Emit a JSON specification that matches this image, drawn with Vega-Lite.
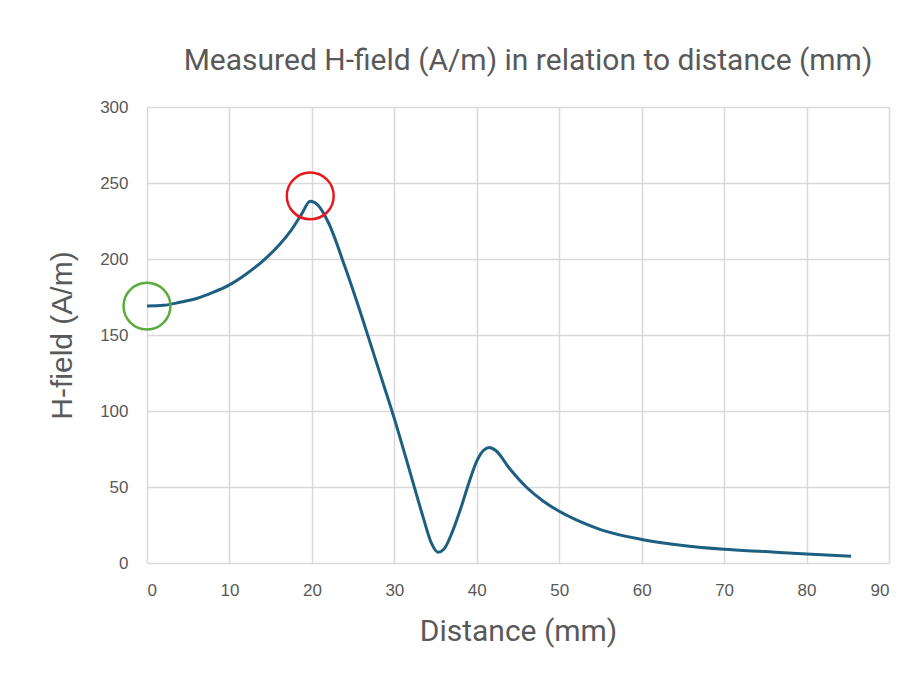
{
  "$schema": "https://vega.github.io/schema/vega-lite/v6.json",
  "width": 742,
  "height": 456,
  "autosize": "none",
  "padding": {"left": 147, "top": 107, "right": 29, "bottom": 119},
  "background": "white",
  "title": {
    "text": "Measured H-field (A/m) in relation to distance (mm)",
    "font": "Roboto",
    "fontSize": 30,
    "fontWeight": "normal",
    "color": "#595959",
    "anchor": "middle",
    "offset": 22,
    "dx": 10
  },
  "config": {
    "view": {"stroke": null},
    "axis": {
      "gridColor": "#d9d9d9",
      "gridWidth": 1.5,
      "domain": false,
      "ticks": false,
      "labelColor": "#595959",
      "labelFont": "Liberation Sans",
      "labelFontSize": 17,
      "titleColor": "#595959",
      "titleFontWeight": "normal"
    }
  },
  "datasets": {
    "curve": [
      {"d": 0, "h": 169},
      {"d": 2, "h": 169.5},
      {"d": 4, "h": 171.5},
      {"d": 6, "h": 174},
      {"d": 8, "h": 178},
      {"d": 10, "h": 183},
      {"d": 12, "h": 190},
      {"d": 14, "h": 198.5},
      {"d": 16, "h": 209},
      {"d": 17.5, "h": 219},
      {"d": 18.7, "h": 229},
      {"d": 19.8, "h": 238},
      {"d": 20.8, "h": 235},
      {"d": 22, "h": 224},
      {"d": 24, "h": 195},
      {"d": 26, "h": 163},
      {"d": 28, "h": 129},
      {"d": 30, "h": 95},
      {"d": 32, "h": 58},
      {"d": 33.5, "h": 30},
      {"d": 34.5, "h": 13},
      {"d": 35.3, "h": 7},
      {"d": 36, "h": 9},
      {"d": 37, "h": 20},
      {"d": 38, "h": 35},
      {"d": 39, "h": 52},
      {"d": 40, "h": 67},
      {"d": 40.8, "h": 74},
      {"d": 41.5, "h": 76},
      {"d": 42.3, "h": 74},
      {"d": 44, "h": 62},
      {"d": 46, "h": 50},
      {"d": 48, "h": 41},
      {"d": 50, "h": 34},
      {"d": 52, "h": 28.5},
      {"d": 55, "h": 22},
      {"d": 60, "h": 15.5},
      {"d": 65, "h": 11.5},
      {"d": 70, "h": 9},
      {"d": 75, "h": 7.5},
      {"d": 80, "h": 6},
      {"d": 85.4, "h": 4.5}
    ],
    "marks": [
      {"d": 0, "h": 169, "kind": "start"},
      {"d": 19.8, "h": 241.5, "kind": "peak"}
    ]
  },
  "layer": [
    {
      "data": {"name": "curve"},
      "mark": {"type": "line", "interpolate": "monotone", "color": "#1d5f80", "strokeWidth": 3},
      "encoding": {
        "x": {
          "field": "d", "type": "quantitative",
          "scale": {"domain": [0, 90], "nice": false},
          "axis": {"values": [0,10,20,30,40,50,60,70,80,90], "title": "Distance (mm)", "titleFont": "Roboto", "titleFontSize": 30, "titlePadding": 18, "labelPadding": 19}
        },
        "y": {
          "field": "h", "type": "quantitative",
          "scale": {"domain": [0, 300], "nice": false},
          "axis": {"values": [0,50,100,150,200,250,300], "title": "H-field (A/m)", "titleFont": "Liberation Sans", "titleFontSize": 30, "titlePadding": 22, "labelPadding": 19}
        }
      }
    },
    {
      "data": {"name": "marks"},
      "mark": {"type": "point", "filled": false, "size": 2200, "strokeWidth": 2.5, "opacity": 1},
      "encoding": {
        "x": {"field": "d", "type": "quantitative"},
        "y": {"field": "h", "type": "quantitative"},
        "color": {
          "field": "kind", "type": "nominal",
          "scale": {"domain": ["start", "peak"], "range": ["#5aab3c", "#e51a1f"]},
          "legend": null
        }
      }
    }
  ]
}
